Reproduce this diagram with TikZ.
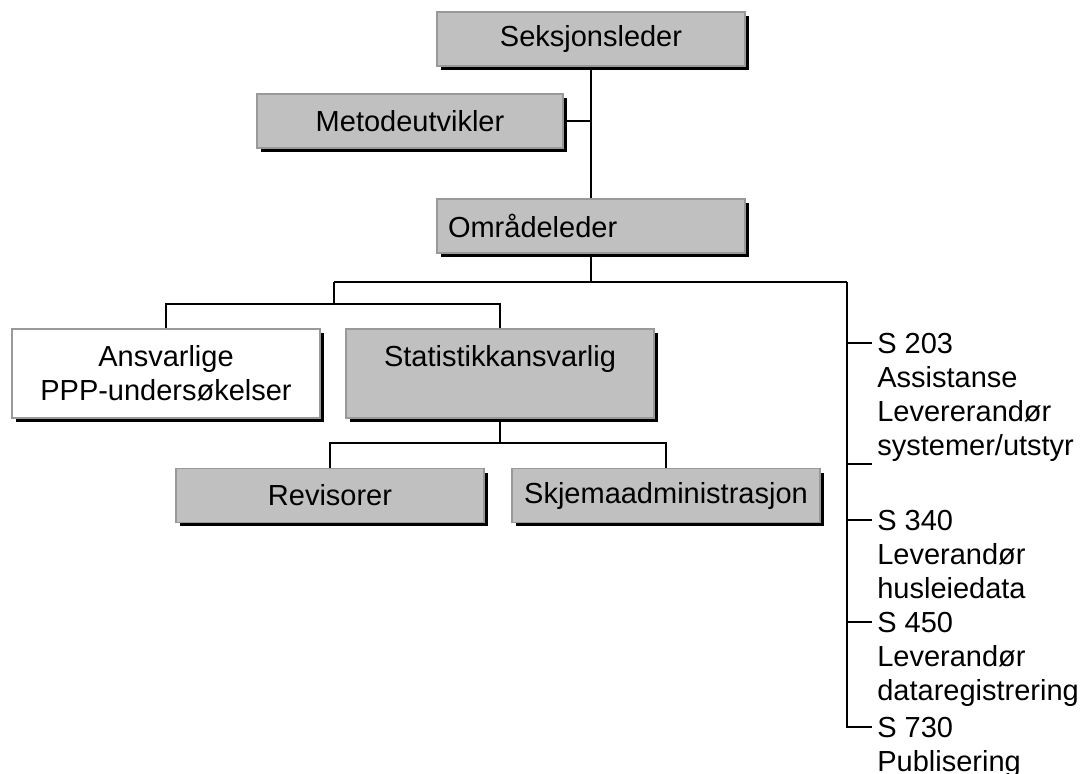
\documentclass[tikz,border=0pt]{standalone}
\usepackage{fontspec}
\setmainfont{Liberation Sans}
\usepackage{xcolor}
\usepackage{tikz}
\usetikzlibrary{calc,positioning,shadows}
\definecolor{boxc}{HTML}{C0C0C0}
\definecolor{edgec}{HTML}{999999}
\tikzset{
  bx/.style={rectangle,draw=edgec,line width=1pt,fill=boxc,minimum width=6.16cm,minimum height=1.08cm,inner sep=0pt,align=center,font=\fontsize{16.5}{19.4}\selectfont,drop shadow={shadow xshift=0.08cm,shadow yshift=-0.08cm,fill=black,opacity=1}},
  ln/.style={line width=1.1pt,black},
  lb/.style={inner sep=0pt,align=left,font=\fontsize{16.5}{19.4}\selectfont}
}
\begin{document}
\begin{tikzpicture}[x=0.02cm,y=-0.02cm]
\useasboundingbox (0,0) rectangle (1082,774);
% boxes
\node[bx] (sek) at (591,39) {Seksjonsleder};
\node[bx,minimum width=6.12cm] (met) at (410,121) {Metodeutvikler};
\node[bx,align=left,text width=5.72cm,inner xsep=0.22cm] (omr) at (591,226) {Områdeleder};
\node[bx,fill=white,minimum height=1.78cm] (ans) at (166,373.5) {Ansvarlige\\PPP-undersøkelser};
\node[bx,minimum height=1.78cm] (sta) at (500,373.5) {Statistikkansvarlig\\\mbox{}};
\node[bx] (rev) at (330,495.5) {Revisorer};
\node[bx] (skj) at (666,495.5) {Skjemaadministrasjon};
% bus points
\coordinate (hub) at (591,282);
\coordinate (bl) at (334,282);
\coordinate (br) at (847,282);
\coordinate (ml) at (334,304);
\coordinate (mr) at (500,443);
\coordinate (t1) at (872,343);
\coordinate (t2) at (872,464);
\coordinate (t3) at (872,520);
\coordinate (t4) at (872,622);
\coordinate (t5) at (872,727);
% connectors
\draw[ln] (sek) -- (omr);
\draw[ln] (met.east) -- (met.east -| sek.south);
\draw[ln] (omr.south) -- (hub);
\draw[ln] (bl) -- (br);
\draw[ln] (bl) -- (ml);
\draw[ln] (ans.north) |- (ml) -| (sta.north);
\draw[ln] (sta.south) -- (mr);
\draw[ln] (rev.north) |- (mr) -| (skj.north);
\draw[ln] (br) |- (t5);
\foreach \t in {t1,t2,t3,t4} \draw[ln] (br |- \t) -- (\t);
% external units
\node[lb,below right=-0.21cm and 0.1cm of t1] (s203) {S 203\\Assistanse\\Levererandør\\systemer/utstyr};
\node[lb,below right=-0.21cm and 0.1cm of t3] (s340) {S 340\\Leverandør\\husleiedata};
\node[lb,below right=-0.21cm and 0.1cm of t4] (s450) {S 450\\Leverandør\\dataregistrering};
\node[lb,below right=-0.21cm and 0.1cm of t5] (s730) {S 730\\Publisering};
\end{tikzpicture}
\end{document}
